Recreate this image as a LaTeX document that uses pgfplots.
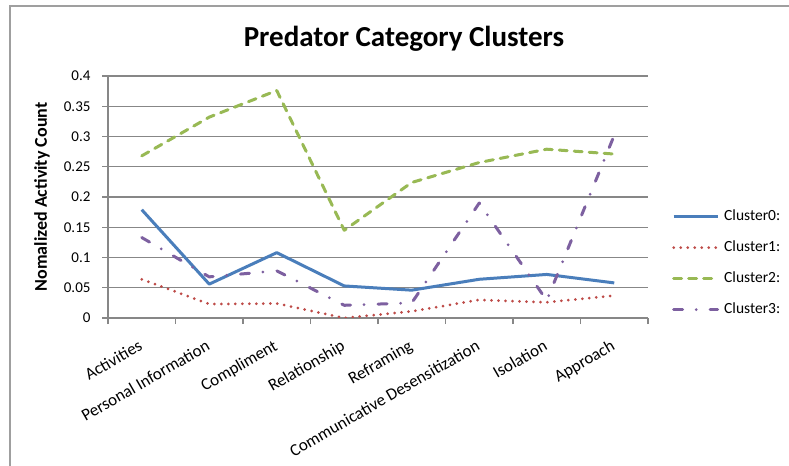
\documentclass[border=0pt]{standalone}
\usepackage{fontspec}
\setmainfont{Carlito}
\usepackage{pgfplots}
\pgfplotsset{compat=1.18}
\definecolor{c0}{HTML}{4A7EBB}
\definecolor{c1}{HTML}{BE4B48}
\definecolor{c2}{HTML}{98B954}
\definecolor{c3}{HTML}{7D60A0}
\definecolor{gridc}{HTML}{878787}
\begin{document}
\begin{tikzpicture}
\useasboundingbox (0,0) rectangle (789bp,466bp);
\fill[white] (0,0) rectangle (789bp,466bp);
\draw[gray!75, line width=1.3bp] (10bp,0) -- (10bp,460bp) -- (789bp,460bp);
\node[font=\fontsize{29bp}{34bp}\selectfont\bfseries] at (404bp,427bp) {Predator Category Clusters};
\begin{axis}[
  at={(108bp,148bp)}, anchor=south west,
  scale only axis, width=540bp, height=242bp,
  xmin=0, xmax=8, ymin=0, ymax=0.4,
  axis x line*=bottom, axis y line*=left,
  axis line style={draw=gridc, line width=1.2bp, -},
  ytick={0,0.05,0.1,0.15,0.2,0.25,0.3,0.35,0.4},
  scaled y ticks=false,
  yticklabel style={font=\fontsize{15bp}{18bp}\selectfont, xshift=-8bp, /pgf/number format/fixed, /pgf/number format/precision=2, /pgf/number format/assume math mode=true},
  ymajorgrids, grid style={gridc, line width=1.2bp},
  tick align=outside, major tick length=6bp, tick style={gridc, line width=1.2bp},
  xtick={0,1,...,8}, xticklabels={},
  extra x ticks={0.5,1.5,2.5,3.5,4.5,5.5,6.5,7.5},
  extra x tick labels={Activities,Personal Information,Compliment,Relationship,Reframing,Communicative Desensitization,Isolation,Approach},
  extra x tick style={major tick length=0pt, grid=none},
  xticklabel style={font=\fontsize{17bp}{20bp}\selectfont, yshift=-28bp, rotate=30, anchor=east, inner sep=0pt, text height=11bp, text depth=3.5bp},
  ylabel={Nomalized Activity Count},
  ylabel style={font=\fontsize{18bp}{21bp}\selectfont\bfseries, at={(axis description cs:-0.1222,0.5)}, anchor=center},
  legend style={at={(axis description cs:1,0.227)}, anchor=west, xshift=24bp, draw=none, fill=none, inner sep=0pt, font=\fontsize{15.5bp}{18bp}\selectfont, row sep=16.5bp, column sep=5bp, nodes={inner sep=0pt, text height=11bp, text depth=3.5bp}},
  legend cell align=left,
  legend image code/.code={\draw[#1] (0bp,0bp) -- (44bp,0bp);},
  every axis plot/.append style={line width=3bp, line join=round},
]
\addplot[c0, solid] coordinates {(0.5,0.179) (1.5,0.056) (2.5,0.108) (3.5,0.053) (4.5,0.046) (5.5,0.064) (6.5,0.072) (7.5,0.058)};
\addlegendentry{Cluster0:}
\addplot[c1, line cap=round, dash pattern=on 0bp off 7bp] coordinates {(0.5,0.064) (1.5,0.023) (2.5,0.024) (3.5,0.000) (4.5,0.011) (5.5,0.030) (6.5,0.026) (7.5,0.037)};
\addlegendentry{Cluster1:}
\addplot[c2, line cap=round, dash pattern=on 8bp off 7bp] coordinates {(0.5,0.268) (1.5,0.332) (2.5,0.376) (3.5,0.145) (4.5,0.224) (5.5,0.257) (6.5,0.279) (7.5,0.271)};
\addlegendentry{Cluster2:}
\addplot[c3, line cap=round, dash pattern=on 9bp off 13.5bp on 0bp off 14bp] coordinates {(0.5,0.133) (1.5,0.068) (2.5,0.078) (3.5,0.021) (4.5,0.025) (5.5,0.190) (6.5,0.029) (7.5,0.302)};
\addlegendentry{Cluster3:}
\end{axis}
\end{tikzpicture}
\end{document}
